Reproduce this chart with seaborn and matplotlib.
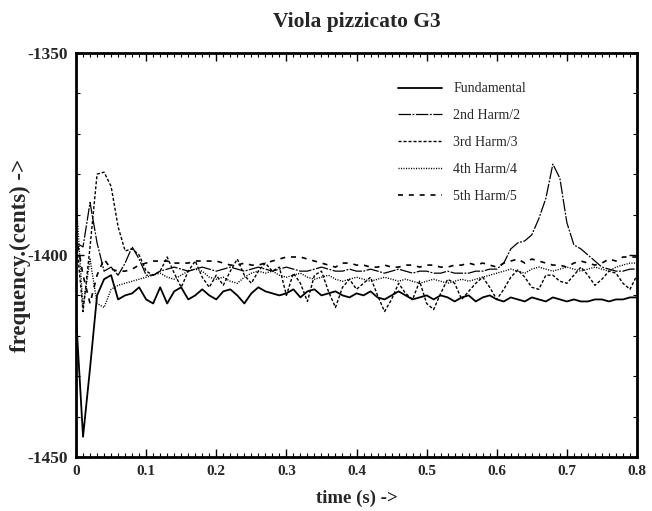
import numpy as np
import pandas as pd
import matplotlib
matplotlib.use("Agg")
import matplotlib.pyplot as plt
import seaborn as sns
from matplotlib.ticker import MultipleLocator, FuncFormatter

time_s = [round(i * 0.01, 2) for i in range(81)]

fundamental = [
    -1415, -1445, -1428, -1410, -1406, -1405, -1411, -1410, -1409.5, -1408,
    -1411, -1412, -1408, -1412, -1409, -1408, -1411, -1410, -1408.5, -1410,
    -1411, -1409, -1408.5, -1410, -1412, -1409.5, -1408, -1409, -1409.5, -1410,
    -1409.5, -1408.5, -1410.5, -1409, -1408.5, -1410, -1409.5, -1409, -1410, -1410.5,
    -1409.5, -1410, -1409, -1410.5, -1411, -1410, -1409, -1410, -1411, -1410.5,
    -1410, -1411, -1410, -1410.5, -1411.5, -1410.5, -1410, -1411.5, -1410.5, -1410,
    -1411, -1411.5, -1410.5, -1411, -1411.5, -1410.5, -1411, -1411.5, -1410.5, -1411,
    -1411.5, -1411, -1411.5, -1411.5, -1411, -1411, -1411.5, -1411, -1411, -1410.5,
    -1410.5,
]

harm2 = [
    -1397, -1398, -1387, -1397, -1404, -1403, -1405, -1402, -1398, -1401,
    -1405, -1405, -1404, -1403.5, -1403, -1403.5, -1404, -1403.5, -1403, -1403.5,
    -1404, -1403.5, -1403, -1403.5, -1404, -1403.5, -1403, -1403.5, -1404, -1403.5,
    -1403, -1403.5, -1404, -1404, -1403.5, -1403, -1403.5, -1404, -1404, -1403.5,
    -1404, -1404, -1403.5, -1404, -1404.5, -1404, -1403.5, -1404, -1404.5, -1404,
    -1404, -1404.5, -1404.5, -1404, -1404.5, -1404.5, -1404.5, -1404, -1404, -1403.5,
    -1403.5, -1402, -1398.5, -1397, -1396.5, -1395, -1391, -1386, -1377.5, -1381,
    -1392, -1397.5, -1398.5, -1400, -1401.5, -1403, -1403.5, -1404, -1404, -1403.5,
    -1403.5,
]

harm3 = [
    -1395, -1414, -1398, -1380, -1379.5, -1383, -1393, -1399, -1398.5, -1400,
    -1404, -1405, -1404, -1400.5, -1404.5, -1408, -1404, -1401.5, -1405.5, -1408,
    -1405, -1407.5, -1404, -1401, -1405, -1407, -1404, -1402, -1404, -1403,
    -1410, -1404.5, -1407, -1411.5, -1405, -1404, -1409, -1413, -1408, -1406,
    -1408.5, -1407, -1405.5, -1410, -1414, -1411, -1407, -1409.5, -1411, -1406.5,
    -1412, -1413.5, -1409.5, -1406, -1407, -1411, -1409, -1407, -1405.5, -1408,
    -1411, -1408.5, -1405.5, -1403.7, -1405.5, -1408, -1408.5, -1405, -1405, -1406.5,
    -1407, -1405, -1403, -1405, -1407.5, -1406, -1404, -1404.5, -1407, -1408.5,
    -1405,
]

harm4 = [
    -1386, -1413, -1401, -1412, -1413, -1408.5, -1407.5, -1407, -1406.5, -1406,
    -1405.5, -1405, -1404.5, -1405.5, -1406, -1405, -1404, -1403.5, -1404, -1405.5,
    -1406, -1405.5, -1406.5, -1407, -1405.5, -1404.5, -1404, -1404.5, -1404, -1405,
    -1405.5, -1405, -1404.5, -1405.5, -1406, -1405.5, -1405, -1406, -1406.5, -1406,
    -1405.5, -1406, -1406.5, -1406, -1405.5, -1406, -1406.5, -1406, -1406.5, -1407,
    -1406.5, -1406, -1406.5, -1407, -1406.5, -1406, -1406.5, -1406, -1405.5, -1405,
    -1404.5, -1404, -1403.5, -1404, -1404.5, -1403.5, -1403, -1403.5, -1404, -1403.5,
    -1403, -1403.5, -1404, -1403.5, -1403, -1403.5, -1404, -1403, -1402.5, -1402,
    -1402,
]

harm5 = [
    -1395, -1405, -1412, -1405, -1401, -1403.5, -1404, -1404, -1403.5, -1402.5,
    -1402, -1401.5, -1401.5, -1401.5, -1402, -1402, -1402, -1401.5, -1401.5, -1401.5,
    -1401.5, -1402, -1402.5, -1402.5, -1402, -1402.5, -1402.5, -1402, -1401.5, -1401,
    -1400.5, -1400.5, -1400.5, -1401, -1401.5, -1402, -1402.5, -1403, -1402, -1402,
    -1402.5, -1402.5, -1403, -1403, -1402.5, -1403, -1403, -1402.5, -1402.5, -1403,
    -1402.5, -1402.5, -1403, -1403, -1402.5, -1402.5, -1402, -1402.5, -1402, -1402.5,
    -1403, -1402, -1401.5, -1401, -1402, -1401, -1401.5, -1402, -1402.5, -1402.5,
    -1403, -1402, -1401.5, -1402, -1402.5, -1402, -1401, -1401.5, -1400.5, -1400.5,
    -1400.5,
]

series_names = ["Fundamental", "2nd Harm/2", "3rd Harm/3", "4th Harm/4", "5th Harm/5"]
series_values = [fundamental, harm2, harm3, harm4, harm5]

frames = []
for name, vals in zip(series_names, series_values):
    frames.append(pd.DataFrame({"time": time_s, "freq": vals, "series": name}))
df = pd.concat(frames, ignore_index=True)

sns.set_style("white")
plt.rcParams["font.family"] = ["Liberation Serif", "DejaVu Serif"]

styles = {
    "Fundamental": dict(dashes=None, lw=1.3),
    "2nd Harm/2": dict(dashes=(10, 1.2, 1.5, 1.2), lw=0.9),
    "3rd Harm/3": dict(dashes=(2.2, 1.4), lw=1.0),
    "4th Harm/4": dict(dashes=(0.8, 1.0), lw=1.0),
    "5th Harm/5": dict(dashes=(3, 3.5), lw=1.2),
}

fig = plt.figure(figsize=(6.52, 5.11), dpi=100)
ax = fig.add_axes([0.1166, 0.1057, 0.8604, 0.7906])

for name in series_names:
    sub = df[df["series"] == name]
    st = styles[name]
    sns.lineplot(data=sub, x="time", y="freq", ax=ax, color="black",
                 linewidth=st["lw"], label=name, legend=False)
    line = ax.lines[-1]
    if st["dashes"] is not None:
        line.set_dashes(st["dashes"])

ax.set_xlim(0, 0.8)
ax.set_ylim(-1450, -1350)
ax.xaxis.set_major_locator(MultipleLocator(0.1))
ax.xaxis.set_minor_locator(MultipleLocator(0.01))
ax.yaxis.set_major_locator(MultipleLocator(50))
ax.yaxis.set_minor_locator(MultipleLocator(10))
ax.xaxis.set_major_formatter(FuncFormatter(
    lambda v, p: "0" if abs(v) < 1e-9 else f"{v:.1f}"))
ax.yaxis.set_major_formatter(FuncFormatter(lambda v, p: f"{int(round(v))}"))

ax.tick_params(axis="both", which="both", direction="in",
               top=True, right=True, bottom=True, left=True, color="black")
ax.tick_params(axis="both", which="major", length=6, width=1.0)
ax.tick_params(axis="both", which="minor", length=3, width=0.8)
ax.tick_params(axis="x", which="major", labelsize=11, pad=6)
ax.tick_params(axis="y", which="major", labelsize=12.5, pad=6)
for lab in ax.get_xticklabels() + ax.get_yticklabels():
    lab.set_fontweight("bold")

for sp in ax.spines.values():
    sp.set_visible(True)
    sp.set_color("black")
    sp.set_linewidth(2.0)

ax.set_xlabel("time (s) ->", fontsize=13.5, fontweight="bold", labelpad=8)
ax.set_ylabel("frequency.(cents) ->", fontsize=16.5, fontweight="bold")
ax.yaxis.set_label_coords(-0.080, 0.5)
ax.set_title("Viola pizzicato G3", fontsize=15.5, fontweight="bold", pad=19)

leg = ax.legend(loc="upper left", bbox_to_anchor=(0.551, 0.958), frameon=False,
                fontsize=10, handlelength=3.2, labelspacing=1.0, handletextpad=0.8)

fig.savefig("out.png", dpi=100, facecolor="white")
